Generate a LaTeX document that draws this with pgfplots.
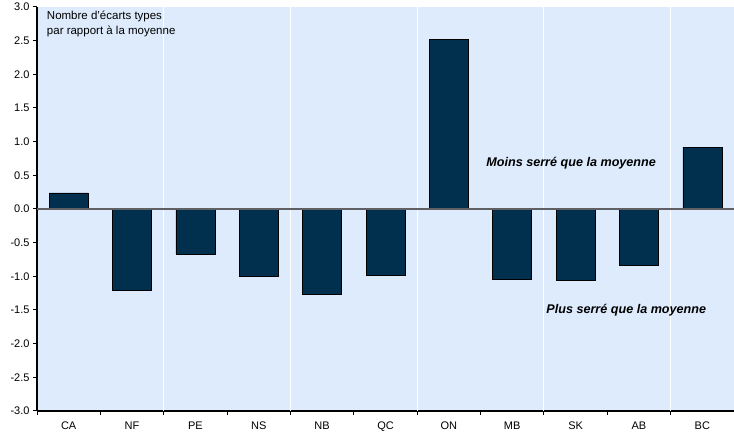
\documentclass[border=0pt]{standalone}
\usepackage{pgfplots}
\pgfplotsset{compat=1.18}
\usepackage{fontspec}
\setmainfont{Liberation Sans}
\definecolor{bgblue}{RGB}{221,235,252}
\definecolor{barblue}{RGB}{0,48,78}
\definecolor{zerogray}{RGB}{95,95,100}
\begin{document}
\begin{tikzpicture}[x=1pt,y=1pt]
\useasboundingbox (0,0) rectangle (734,433);
\begin{axis}[
  at={(37pt,22pt)}, anchor=south west,
  scale only axis, width=697pt, height=404pt,
  xmin=-0.5, xmax=10.5, ymin=-3, ymax=3,
  axis x line*=bottom, axis y line*=left,
  axis line style={black, line width=1.2pt},
  axis background/.style={fill=bgblue},
  xtick={0,...,10},
  xticklabels={CA,NF,PE,NS,NB,QC,ON,MB,SK,AB,BC},
  major x tick style={draw=none},
  minor xtick={-0.5,0.5,...,10.5},
  minor x tick style={black, line width=1pt},
  minor tick length=4pt,
  extra x ticks={1.5,3.5,5.5,7.5,9.5},
  extra x tick labels={},
  extra x tick style={grid=major, major grid style={white, line width=1pt}, major tick length=4pt, tick style={black, line width=1pt}},
  ytick={-3,-2.5,...,3},
  y tick style={black, line width=1pt},
  major tick length=4pt,
  tick align=outside,
  yticklabel style={/pgf/number format/fixed, /pgf/number format/fixed zerofill, /pgf/number format/precision=1},
  /pgf/number format/assume math mode=true,
  tick label style={font=\fontsize{11}{13}\selectfont, text=black},
  xticklabel style={yshift=-3pt},
  ybar, bar width=39pt,
  clip=false,
]
\addplot[draw=black, line width=0.6pt, fill=barblue] coordinates {
 (0,0.24) (1,-1.21) (2,-0.67) (3,-1.00) (4,-1.27) (5,-0.99)
 (6,2.52) (7,-1.04) (8,-1.06) (9,-0.84) (10,0.92)
};
\draw[zerogray, line width=1.5pt] (axis cs:-0.5,0) -- (axis cs:10.5,0);
\node[anchor=north west, align=left, font=\fontsize{11.5}{15}\selectfont, inner sep=0pt] at (rel axis cs:0.014,0.99) {Nombre d’écarts types\\par rapport à la moyenne};
\node[font=\fontsize{12.6}{14}\selectfont\bfseries\itshape] at (axis cs:7.93,0.68) {Moins serré que la moyenne};
\node[font=\fontsize{12.6}{14}\selectfont\bfseries\itshape] at (axis cs:8.8,-1.5) {Plus serré que la moyenne};
\end{axis}
\end{tikzpicture}
\end{document}
